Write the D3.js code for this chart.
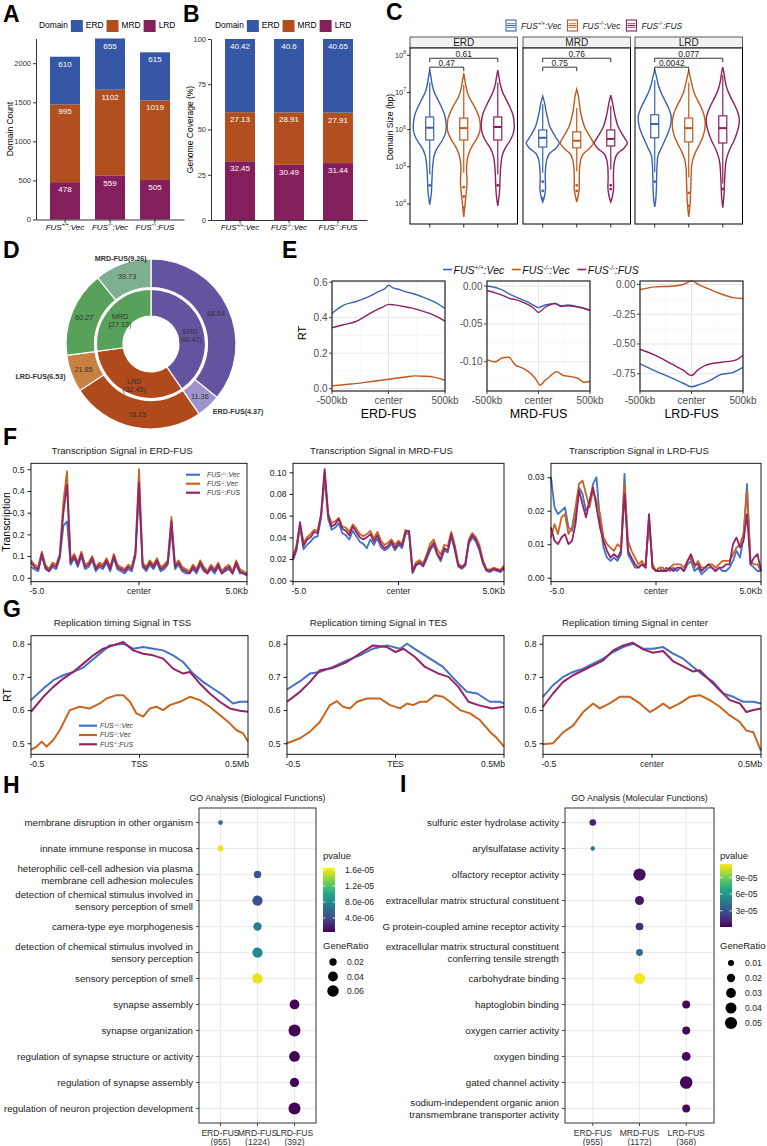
<!DOCTYPE html>
<html><head><meta charset="utf-8">
<script src="https://cdn.jsdelivr.net/npm/d3@7/dist/d3.min.js"></script>
<style>body{margin:0;background:#fff}svg{display:block}text{font-family:"Liberation Sans",Arial,Helvetica,sans-serif}</style>
</head><body><svg id="fig" width="767" height="1146"></svg>
<script>
// ================= DATA =================
const domains = ["ERD","MRD","LRD"];
const genoSup = ["+/+","-/-","-/-"];
const genoTail = [":Vec",":Vec",":FUS"];
// A
const countERD=[610,655,615], countMRD=[995,1102,1019], countLRD=[478,559,505];
const countTicks=[0,500,1000,1500,2000];
// B
const covERD=[40.42,40.6,40.65], covMRD=[27.13,28.91,27.91], covLRD=[32.45,30.49,31.44];
const covTicks=[0,25,50,75,100];
// C : violin profiles [log10 size, relative density]
const vioERD=[
 [[7.6,0],[7.4,0.08],[7.2,0.15],[7.0,0.28],[6.8,0.5],[6.6,0.72],[6.4,0.9],[6.2,0.98],[6.05,1],[5.9,0.95],[5.7,0.75],[5.5,0.45],[5.3,0.27],[5.1,0.2],[4.9,0.16],[4.6,0.13],[4.3,0.1],[3.98,0]],
 [[7.52,0],[7.3,0.08],[7.1,0.16],[6.9,0.3],[6.7,0.55],[6.5,0.78],[6.3,0.95],[6.1,1],[5.95,0.97],[5.75,0.78],[5.55,0.5],[5.35,0.3],[5.15,0.2],[4.9,0.17],[4.6,0.2],[4.3,0.15],[4.0,0.08],[3.65,0]],
 [[7.6,0],[7.4,0.08],[7.2,0.16],[7.0,0.3],[6.8,0.52],[6.6,0.74],[6.4,0.92],[6.2,0.99],[6.07,1],[5.9,0.94],[5.7,0.74],[5.5,0.45],[5.3,0.27],[5.1,0.2],[4.9,0.16],[4.6,0.13],[4.3,0.1],[3.95,0]]];
const vioMRD=[
 [[6.9,0],[6.7,0.12],[6.5,0.2],[6.3,0.3],[6.1,0.42],[5.9,0.65],[5.75,0.85],[5.64,1],[5.5,0.8],[5.35,0.4],[5.2,0.25],[5.0,0.18],[4.7,0.15],[4.4,0.17],[4.2,0.1],[4.05,0]],
 [[7.09,0],[6.9,0.1],[6.7,0.16],[6.5,0.22],[6.3,0.32],[6.1,0.45],[5.9,0.68],[5.75,0.88],[5.64,1],[5.5,0.78],[5.35,0.4],[5.2,0.25],[5.0,0.18],[4.7,0.15],[4.4,0.15],[4.05,0]],
 [[6.93,0],[6.7,0.12],[6.5,0.2],[6.3,0.3],[6.1,0.43],[5.9,0.66],[5.75,0.87],[5.64,1],[5.5,0.8],[5.35,0.4],[5.2,0.25],[5.0,0.18],[4.7,0.16],[4.4,0.17],[4.2,0.1],[4.05,0]]];
const vioLRD=[
 [[7.6,0],[7.4,0.12],[7.2,0.22],[7.0,0.38],[6.8,0.6],[6.6,0.82],[6.4,0.98],[6.3,1],[6.1,0.95],[5.9,0.8],[5.7,0.6],[5.5,0.4],[5.3,0.2],[5.1,0.15],[4.8,0.12],[4.4,0.1],[4.1,0.06],[3.92,0]],
 [[7.6,0],[7.4,0.1],[7.2,0.2],[7.0,0.32],[6.8,0.52],[6.6,0.75],[6.4,0.92],[6.2,1],[6.0,0.97],[5.8,0.85],[5.6,0.65],[5.4,0.42],[5.2,0.25],[5.0,0.17],[4.7,0.14],[4.4,0.12],[4.0,0.08],[3.65,0]],
 [[7.68,0],[7.5,0.08],[7.3,0.15],[7.1,0.26],[6.9,0.45],[6.7,0.68],[6.5,0.88],[6.3,1],[6.1,0.97],[5.9,0.85],[5.7,0.68],[5.5,0.45],[5.3,0.28],[5.1,0.18],[4.8,0.13],[4.5,0.1],[4.2,0.07],[3.9,0]]];
// box stats [whiskerLow, q1, median, q3, whiskerHigh] (log10 bp)
const boxERD=[[4.79,5.72,6.05,6.34,7.27],[4.84,5.72,6.04,6.31,7.2],[4.79,5.72,6.07,6.34,7.27]];
const boxMRD=[[4.84,5.53,5.78,5.99,6.68],[4.87,5.51,5.70,5.94,6.58],[4.92,5.56,5.75,5.99,6.64]];
const boxLRD=[[4.85,5.78,6.15,6.40,7.33],[4.71,5.67,6.04,6.31,7.27],[4.55,5.64,6.04,6.37,7.46]];
const outERD=[[4.5],[4.45,4.2,3.9],[4.5]];
const outMRD=[[4.6,4.35,4.15],[4.5,4.35],[4.5,4.4]];
const outLRD=[[4.6],[4.3,3.95],[4.4]];
const pERD=["0.47","0.61"], pMRD=["0.75","0.76"], pLRD=["0.0042","0.077"];
const sizeTicks=[4,5,6,7,8];
// D
const innerNames=["ERD","LRD","MRD"];
const innerPct=[40.42,32.45,27.13];
const outerPct=[88.64,11.36,78.15,21.85,60.27,39.73];
const fusNames=["ERD-FUS(4.37)","LRD-FUS(6.53)","MRD-FUS(9.26)"];
// E  [position kb, RT]
const eERD_wt=[[-500,0.425],[-400,0.47],[-294,0.49],[-200,0.512],[-147,0.528],[-80,0.55],[-30,0.565],[0,0.583],[40,0.568],[100,0.558],[147,0.547],[220,0.535],[294,0.519],[400,0.49],[450,0.473],[500,0.453]];
const eERD_ko=[[-500,0.015],[-400,0.022],[-294,0.028],[-150,0.04],[0,0.053],[150,0.065],[235,0.072],[300,0.07],[400,0.065],[500,0.047]];
const eERD_res=[[-500,0.343],[-400,0.36],[-294,0.377],[-200,0.41],[-147,0.43],[-50,0.46],[0,0.475],[50,0.472],[147,0.462],[200,0.455],[294,0.438],[400,0.415],[500,0.381]];
const eMRD_wt=[[-500,0.0],[-420,-0.002],[-355,-0.005],[-290,-0.01],[-226,-0.014],[-160,-0.018],[-97,-0.0215],[-40,-0.026],[0,-0.0285],[65,-0.025],[161,-0.023],[220,-0.026],[290,-0.025],[400,-0.028],[500,-0.032]];
const eMRD_ko=[[-500,-0.097],[-419,-0.1],[-355,-0.095],[-290,-0.094],[-226,-0.104],[-160,-0.108],[-97,-0.113],[-30,-0.122],[16,-0.131],[60,-0.125],[97,-0.121],[177,-0.113],[240,-0.118],[290,-0.119],[387,-0.122],[440,-0.127],[500,-0.126]];
const eMRD_res=[[-500,-0.006],[-420,-0.009],[-355,-0.012],[-290,-0.016],[-226,-0.018],[-160,-0.021],[-97,-0.025],[-40,-0.03],[0,-0.035],[65,-0.028],[161,-0.023],[220,-0.027],[290,-0.026],[400,-0.028],[500,-0.032]];
const eLRD_wt=[[-500,-0.668],[-355,-0.726],[-194,-0.785],[-80,-0.83],[0,-0.859],[80,-0.84],[161,-0.815],[290,-0.756],[400,-0.74],[500,-0.697]];
const eLRD_ko=[[-500,-0.044],[-355,-0.02],[-194,-0.015],[-80,0.0],[0,0.03],[80,-0.005],[161,-0.035],[290,-0.08],[400,-0.11],[500,-0.118]];
const eLRD_res=[[-500,-0.544],[-355,-0.594],[-194,-0.668],[-80,-0.72],[0,-0.765],[60,-0.72],[129,-0.682],[290,-0.653],[419,-0.638],[500,-0.594]];
// F  transcription profiles (61 bins from -5 kb to +5 kb)
const fERD_wt=[0.05,0.04,0.03,0.10,0.04,0.03,0.05,0.04,0.09,0.24,0.26,0.06,0.09,0.05,0.10,0.04,0.05,0.08,0.03,0.05,0.04,0.07,0.03,0.09,0.04,0.03,0.02,0.04,0.03,0.10,0.40,0.05,0.03,0.06,0.04,0.07,0.03,0.04,0.06,0.22,0.04,0.06,0.03,0.02,0.02,0.04,0.02,0.06,0.03,0.02,0.04,0.02,0.05,0.02,0.03,0.04,0.02,0.06,0.02,0.02,0.01];
const fERD_ko=[0.08,0.06,0.05,0.12,0.06,0.04,0.07,0.06,0.11,0.35,0.49,0.08,0.11,0.07,0.12,0.06,0.07,0.10,0.05,0.07,0.06,0.09,0.05,0.11,0.06,0.05,0.04,0.06,0.05,0.12,0.50,0.07,0.05,0.08,0.06,0.09,0.05,0.06,0.08,0.28,0.06,0.08,0.05,0.04,0.03,0.06,0.04,0.08,0.05,0.03,0.06,0.04,0.07,0.03,0.05,0.06,0.03,0.08,0.04,0.03,0.02];
const fERD_res=[0.07,0.05,0.04,0.11,0.05,0.03,0.06,0.05,0.10,0.30,0.43,0.07,0.10,0.06,0.11,0.05,0.06,0.09,0.04,0.06,0.05,0.08,0.04,0.10,0.05,0.04,0.03,0.05,0.04,0.11,0.44,0.06,0.04,0.07,0.05,0.08,0.04,0.05,0.07,0.26,0.05,0.07,0.04,0.03,0.02,0.05,0.03,0.07,0.04,0.02,0.05,0.03,0.06,0.02,0.04,0.05,0.02,0.07,0.03,0.02,0.015];
const fMRD_wt=[0.019,0.028,0.050,0.029,0.033,0.036,0.040,0.041,0.058,0.095,0.057,0.047,0.049,0.053,0.044,0.042,0.038,0.046,0.041,0.036,0.034,0.030,0.038,0.033,0.039,0.031,0.028,0.030,0.034,0.028,0.033,0.030,0.043,0.044,0.007,0.014,0.016,0.013,0.020,0.028,0.033,0.024,0.018,0.028,0.026,0.041,0.028,0.013,0.011,0.014,0.034,0.040,0.036,0.028,0.016,0.009,0.008,0.010,0.009,0.008,0.011];
const fMRD_ko=[0.022,0.033,0.052,0.035,0.040,0.043,0.047,0.046,0.060,0.100,0.062,0.053,0.055,0.058,0.050,0.049,0.045,0.052,0.048,0.043,0.041,0.043,0.046,0.039,0.045,0.037,0.033,0.035,0.038,0.033,0.037,0.034,0.047,0.045,0.010,0.017,0.019,0.016,0.024,0.034,0.038,0.029,0.024,0.033,0.032,0.045,0.033,0.016,0.013,0.016,0.038,0.044,0.040,0.033,0.019,0.011,0.010,0.012,0.011,0.010,0.014];
const fMRD_res=[0.020,0.030,0.054,0.032,0.038,0.040,0.045,0.044,0.062,0.103,0.060,0.050,0.052,0.057,0.048,0.046,0.042,0.050,0.045,0.040,0.038,0.040,0.043,0.036,0.042,0.034,0.030,0.032,0.036,0.030,0.035,0.032,0.045,0.046,0.008,0.015,0.017,0.014,0.022,0.030,0.035,0.025,0.020,0.030,0.028,0.043,0.030,0.014,0.012,0.015,0.036,0.042,0.038,0.030,0.017,0.010,0.009,0.011,0.010,0.009,0.012];
const fLRD_wt=[0.030,0.021,0.019,0.020,0.021,0.015,0.014,0.018,0.027,0.025,0.020,0.022,0.028,0.030,0.017,0.009,0.006,0.005,0.006,0.005,0.007,0.031,0.007,0.005,0.003,0.003,0.004,0.003,0.017,0.003,0.002,0.003,0.002,0.003,0.002,0.003,0.002,0.003,0.002,0.004,0.005,0.002,0.003,0.001,0.002,0.003,0.003,0.002,0.003,0.002,0.002,0.003,0.005,0.008,0.006,0.012,0.028,0.004,0.003,0.002,0.002];
const fLRD_ko=[0.012,0.016,0.013,0.018,0.019,0.013,0.015,0.021,0.028,0.029,0.025,0.021,0.026,0.023,0.019,0.012,0.010,0.009,0.008,0.010,0.009,0.028,0.011,0.008,0.006,0.004,0.005,0.003,0.018,0.004,0.002,0.003,0.003,0.002,0.003,0.004,0.004,0.004,0.003,0.005,0.006,0.003,0.005,0.003,0.003,0.004,0.004,0.003,0.004,0.005,0.005,0.005,0.007,0.009,0.010,0.013,0.026,0.005,0.004,0.004,0.002];
const fLRD_res=[0.015,0.011,0.010,0.012,0.013,0.010,0.011,0.016,0.026,0.022,0.018,0.023,0.027,0.021,0.015,0.011,0.008,0.006,0.007,0.006,0.008,0.025,0.008,0.006,0.004,0.003,0.004,0.003,0.019,0.003,0.002,0.002,0.002,0.002,0.003,0.002,0.003,0.003,0.002,0.005,0.007,0.004,0.004,0.002,0.003,0.004,0.003,0.002,0.003,0.003,0.004,0.004,0.010,0.012,0.009,0.011,0.019,0.004,0.006,0.007,0.002];
// G  [position Mb, RT]
const gTSS_wt=[[-0.5,0.63],[-0.443,0.665],[-0.397,0.69],[-0.351,0.705],[-0.305,0.715],[-0.259,0.728],[-0.229,0.745],[-0.183,0.77],[-0.137,0.795],[-0.075,0.80],[-0.029,0.785],[0.017,0.79],[0.063,0.785],[0.109,0.78],[0.155,0.765],[0.201,0.745],[0.247,0.71],[0.293,0.685],[0.339,0.665],[0.385,0.645],[0.431,0.62],[0.462,0.625],[0.5,0.625]];
const gTSS_ko=[[-0.5,0.48],[-0.474,0.49],[-0.451,0.505],[-0.428,0.49],[-0.397,0.51],[-0.367,0.54],[-0.321,0.60],[-0.275,0.61],[-0.229,0.605],[-0.183,0.62],[-0.152,0.635],[-0.106,0.645],[-0.075,0.645],[-0.044,0.625],[-0.014,0.59],[0.017,0.58],[0.048,0.605],[0.078,0.61],[0.109,0.60],[0.140,0.615],[0.186,0.625],[0.232,0.64],[0.278,0.63],[0.324,0.61],[0.370,0.585],[0.416,0.56],[0.446,0.54],[0.477,0.53],[0.5,0.505]];
const gTSS_res=[[-0.5,0.595],[-0.443,0.64],[-0.397,0.67],[-0.351,0.695],[-0.305,0.715],[-0.259,0.74],[-0.213,0.765],[-0.167,0.785],[-0.121,0.795],[-0.075,0.805],[-0.029,0.78],[0.017,0.77],[0.063,0.765],[0.109,0.755],[0.155,0.725],[0.201,0.71],[0.232,0.715],[0.278,0.68],[0.324,0.65],[0.370,0.625],[0.416,0.605],[0.462,0.598],[0.5,0.595]];
const gTES_wt=[[-0.5,0.662],[-0.44,0.687],[-0.394,0.71],[-0.348,0.715],[-0.288,0.73],[-0.224,0.75],[-0.164,0.765],[-0.104,0.785],[-0.039,0.795],[0.021,0.785],[0.053,0.80],[0.099,0.78],[0.159,0.755],[0.219,0.73],[0.283,0.685],[0.329,0.655],[0.376,0.65],[0.435,0.625],[0.481,0.625],[0.5,0.62]];
const gTES_ko=[[-0.5,0.50],[-0.44,0.515],[-0.394,0.535],[-0.348,0.565],[-0.302,0.615],[-0.27,0.627],[-0.242,0.61],[-0.21,0.605],[-0.177,0.625],[-0.131,0.635],[-0.071,0.635],[-0.025,0.615],[0.021,0.605],[0.053,0.62],[0.081,0.615],[0.113,0.625],[0.145,0.625],[0.182,0.645],[0.219,0.64],[0.251,0.625],[0.297,0.60],[0.343,0.59],[0.389,0.57],[0.435,0.535],[0.468,0.515],[0.5,0.49]];
const gTES_res=[[-0.5,0.625],[-0.44,0.655],[-0.394,0.685],[-0.348,0.72],[-0.288,0.727],[-0.224,0.745],[-0.164,0.77],[-0.104,0.795],[-0.039,0.79],[0.0,0.775],[0.037,0.785],[0.090,0.76],[0.136,0.73],[0.198,0.71],[0.244,0.70],[0.29,0.67],[0.336,0.625],[0.382,0.615],[0.444,0.605],[0.5,0.61]];
const gCEN_wt=[[-0.5,0.64],[-0.454,0.675],[-0.408,0.70],[-0.362,0.715],[-0.316,0.725],[-0.270,0.74],[-0.224,0.755],[-0.178,0.775],[-0.132,0.79],[-0.087,0.80],[-0.041,0.785],[0.005,0.785],[0.051,0.79],[0.097,0.77],[0.143,0.755],[0.189,0.73],[0.235,0.705],[0.281,0.685],[0.327,0.65],[0.373,0.64],[0.419,0.625],[0.465,0.625],[0.5,0.62]];
const gCEN_ko=[[-0.5,0.497],[-0.454,0.50],[-0.408,0.533],[-0.362,0.553],[-0.316,0.594],[-0.270,0.62],[-0.240,0.605],[-0.194,0.62],[-0.148,0.64],[-0.102,0.64],[-0.056,0.62],[-0.010,0.594],[0.020,0.605],[0.051,0.62],[0.082,0.605],[0.127,0.62],[0.173,0.64],[0.219,0.645],[0.265,0.63],[0.311,0.61],[0.357,0.584],[0.403,0.564],[0.433,0.538],[0.465,0.533],[0.5,0.477]];
const gCEN_res=[[-0.5,0.61],[-0.454,0.65],[-0.408,0.685],[-0.362,0.705],[-0.316,0.72],[-0.270,0.735],[-0.224,0.75],[-0.178,0.78],[-0.132,0.795],[-0.087,0.803],[-0.041,0.783],[0.005,0.773],[0.051,0.778],[0.097,0.747],[0.143,0.732],[0.189,0.716],[0.219,0.72],[0.265,0.69],[0.311,0.66],[0.357,0.63],[0.403,0.62],[0.433,0.594],[0.465,0.60],[0.5,0.605]];
// H
const bpTerms=["membrane disruption in other organism","innate immune response in mucosa","heterophilic cell-cell adhesion via plasma\nmembrane cell adhesion molecules","detection of chemical stimulus involved in\nsensory perception of smell","camera-type eye morphogenesis","detection of chemical stimulus involved in\nsensory perception","sensory perception of smell","synapse assembly","synapse organization","regulation of synapse structure or activity","regulation of synapse assembly","regulation of neuron projection development"];
const bpCluster=["ERD-FUS","ERD-FUS","MRD-FUS","MRD-FUS","MRD-FUS","MRD-FUS","MRD-FUS","LRD-FUS","LRD-FUS","LRD-FUS","LRD-FUS","LRD-FUS"];
const bpRatio=[0.008,0.012,0.02,0.045,0.027,0.045,0.047,0.04,0.066,0.05,0.035,0.066];
const bpPval=[6e-6,1.6e-5,4.5e-6,4.5e-6,7.5e-6,8e-6,1.6e-5,6e-7,5e-7,6e-7,6e-7,5e-7];
const bpClusters=["ERD-FUS","MRD-FUS","LRD-FUS"], bpCounts=["(955)","(1224)","(392)"];
const bpPTicks=[4e-6,8e-6,1.2e-5,1.6e-5], bpPLabels=["4.0e-06","8.0e-06","1.2e-05","1.6e-05"];
const bpSizeTicks=[0.02,0.04,0.06];
// I
const mfTerms=["sulfuric ester hydrolase activity","arylsulfatase activity","olfactory receptor activity","extracellular matrix structural constituent","G protein-coupled amine receptor activity","extracellular matrix structural constituent\nconferring tensile strength","carbohydrate binding","haptoglobin binding","oxygen carrier activity","oxygen binding","gated channel activity","sodium-independent organic anion\ntransmembrane transporter activity"];
const mfCluster=["ERD-FUS","ERD-FUS","MRD-FUS","MRD-FUS","MRD-FUS","MRD-FUS","MRD-FUS","LRD-FUS","LRD-FUS","LRD-FUS","LRD-FUS","LRD-FUS"];
const mfRatio=[0.012,0.006,0.052,0.025,0.017,0.013,0.04,0.018,0.018,0.023,0.055,0.018];
const mfPval=[1.2e-5,4.5e-5,5e-6,8e-6,1.5e-5,4.2e-5,1.12e-4,3e-6,3e-6,4e-6,2e-6,4e-6];
const mfClusters=["ERD-FUS","MRD-FUS","LRD-FUS"], mfCounts=["(955)","(1172)","(368)"];
const mfPTicks=[3e-5,6e-5,9e-5], mfPLabels=["3e-05","6e-05","9e-05"];
const mfSizeTicks=[0.01,0.02,0.03,0.04,0.05];

// ================= DRAWING =================
const FONT='"Liberation Sans",Arial,Helvetica,sans-serif';
const svg=d3.select("#fig");
svg.append("rect").attr("width",767).attr("height",1146).attr("fill","#fff");
const domColors={ERD:"#3557a5",MRD:"#b24f1e",LRD:"#851e5d"};
const genoColors=["#3a62b0","#c2581c","#8f1f62"];
const lineColors=["#4472c4","#c8651e","#952366"];

function T(p,x,y,s,o={}){
  const t=p.append("text").attr("x",x).attr("y",y).text(s).attr("font-size",o.size||8)
   .attr("fill",o.fill||"#000").attr("text-anchor",o.anchor||"start").attr("font-family",FONT);
  if(o.weight)t.attr("font-weight",o.weight);
  if(o.italic)t.attr("font-style","italic");
  if(o.rot)t.attr("transform",`rotate(-90,${x},${y})`);
  return t;
}
function fusText(p,x,y,gi,size,anchor,fill){
  const t=p.append("text").attr("x",x).attr("y",y).attr("font-size",size).attr("font-family",FONT)
   .attr("font-style","italic").attr("text-anchor",anchor||"start").attr("fill",fill||"#000");
  t.append("tspan").text("FUS");
  t.append("tspan").attr("font-size",size*0.6).attr("dy",-size*0.38).text(genoSup[gi]);
  t.append("tspan").attr("dy",size*0.38).text(genoTail[gi]);
  return t;
}
function styleAxis(g,o={}){
  g.attr("font-family",FONT);
  g.selectAll(".domain").attr("stroke",o.line||"#000").attr("stroke-width",o.lw||0.8);
  g.selectAll(".tick line").attr("stroke",o.line||"#000").attr("stroke-width",o.lw||0.8);
  g.selectAll(".tick text").attr("font-size",o.size||7.5).attr("fill",o.fill||"#333");
}
// panel letters
[["A",3,22],["B",183,22],["C",386,20],["D",3,258],["E",282,258],["F",3,445],["G",3,617],["H",3,793],["I",400,792]]
 .forEach(([s,x,y])=>T(svg,x,y,s,{size:23,weight:"bold"}));

// ---------- A & B ----------
function domLegend(g,x,y){
  let t=T(g,x,y,"Domain",{size:8.4});
  let cx=x+t.node().getComputedTextLength()+3;
  domains.forEach(d=>{
    g.append("rect").attr("x",cx).attr("y",y-8).attr("width",12).attr("height",12).attr("fill",domColors[d]);
    const tt=T(g,cx+15,y,d,{size:8.4});
    cx=cx+15+tt.node().getComputedTextLength()+3;
  });
}
function barPanel(o){
  const g=svg.append("g");
  const y=d3.scaleLinear().domain([0,o.max]).range([o.yb,o.yt]);
  const x=d3.scaleBand().domain([0,1,2]).range([o.x0,o.x1]).paddingInner(o.pi).paddingOuter(o.po);
  const rows=[0,1,2].map(i=>({LRD:o.lrd[i],MRD:o.mrd[i],ERD:o.erd[i]}));
  const series=d3.stack().keys(["LRD","MRD","ERD"])(rows);
  series.forEach(s=>s.forEach((d,i)=>{
    g.append("rect").attr("x",x(i)).attr("y",y(d[1])).attr("width",x.bandwidth()).attr("height",y(d[0])-y(d[1])).attr("fill",domColors[s.key]);
    T(g,x(i)+x.bandwidth()/2,y(d[1])+10,String(d.data[s.key]),{size:8,fill:"#fff",anchor:"middle"});
  }));
  styleAxis(g.append("g").attr("transform",`translate(${o.x0},0)`).call(d3.axisLeft(y).tickValues(o.ticks).tickFormat(d=>String(d)).tickSize(3).tickSizeOuter(0).tickPadding(2)));
  styleAxis(g.append("g").attr("transform",`translate(0,${o.yb})`).call(d3.axisBottom(x).tickSize(3).tickSizeOuter(0).tickFormat("")));
  [0,1,2].forEach(i=>fusText(g,x(i)+x.bandwidth()/2,o.yb+10,i,8,"middle","#000"));
  T(g,o.ytX,(o.yt+o.yb)/2,o.ytitle,{size:8.5,anchor:"middle",rot:true});
  domLegend(g,o.legX,28);
}
barPanel({x0:36,x1:184,yt:38.5,yb:219.5,max:2316,pi:0.333,po:0.311,erd:countERD,mrd:countMRD,lrd:countLRD,ticks:countTicks,ytitle:"Domain Count",ytX:13,legX:39});
barPanel({x0:211,x1:367,yt:39,yb:220,max:100,pi:0.388,po:0.286,erd:covERD,mrd:covMRD,lrd:covLRD,ticks:covTicks,ytitle:"Genome Coverage (%)",ytX:193,legX:215});

// ---------- C ----------
(function(){
  const g=svg.append("g");
  const panelX=[410,523,635], cW=107.5;
  const yC=d3.scaleLinear().domain([3.46,8.196]).range([224,48]);
  const xC=d3.scalePoint().domain([0,1,2]).range([0,cW]).padding(0.58);
  const vio=[vioERD,vioMRD,vioLRD], box=[boxERD,boxMRD,boxLRD], outs=[outERD,outMRD,outLRD], pv=[pERD,pMRD,pLRD];
  let lx=506;
  [0,1,2].forEach(gi=>{
    const c=genoColors[gi];
    g.append("rect").attr("x",lx).attr("y",20).attr("width",10).attr("height",11).attr("fill","#fff").attr("stroke",c).attr("stroke-width",1.1);
    [23.5,25.5,27.5].forEach((yy,k)=>g.append("line").attr("x1",lx+1).attr("x2",lx+9).attr("y1",yy).attr("y2",yy).attr("stroke",c).attr("stroke-width",k==1?1.3:0.7));
    const t=fusText(g,lx+15,28.5,gi,8.4,"start","#222");
    lx=lx+15+t.node().getComputedTextLength()+6;
  });
  domains.forEach((dn,di)=>{
    const px=panelX[di];
    g.append("rect").attr("x",px).attr("y",37).attr("width",cW).attr("height",11).attr("fill","#f2f2f2").attr("stroke","#333").attr("stroke-width",0.8);
    T(g,px+cW/2,46.3,dn,{size:10,anchor:"middle",fill:"#1a1a1a"});
    g.append("rect").attr("x",px).attr("y",48).attr("width",cW).attr("height",176).attr("fill","#fff").attr("stroke","#000").attr("stroke-width",1);
    [0,1,2].forEach(gi=>{
      const cx=px+xC(gi), c=genoColors[gi];
      const area=d3.area().y(d=>yC(d[0])).x0(d=>cx-d[1]*16.5).x1(d=>cx+d[1]*16.5).curve(d3.curveCatmullRom);
      g.append("path").attr("d",area(vio[di][gi])).attr("fill","#fff").attr("stroke",c).attr("stroke-width",1.4);
      const b=box[di][gi];
      g.append("line").attr("x1",cx).attr("x2",cx).attr("y1",yC(b[0])).attr("y2",yC(b[1])).attr("stroke",c).attr("stroke-width",1.2);
      g.append("line").attr("x1",cx).attr("x2",cx).attr("y1",yC(b[3])).attr("y2",yC(b[4])).attr("stroke",c).attr("stroke-width",1.2);
      g.append("rect").attr("x",cx-4).attr("y",yC(b[3])).attr("width",8).attr("height",yC(b[1])-yC(b[3])).attr("fill","#fff").attr("stroke",c).attr("stroke-width",1.2);
      g.append("line").attr("x1",cx-4).attr("x2",cx+4).attr("y1",yC(b[2])).attr("y2",yC(b[2])).attr("stroke",c).attr("stroke-width",2);
      outs[di][gi].forEach(v=>g.append("circle").attr("cx",cx).attr("cy",yC(v)).attr("r",1.4).attr("fill",c));
      g.append("line").attr("x1",cx).attr("x2",cx).attr("y1",224).attr("y2",227.5).attr("stroke","#000").attr("stroke-width",0.8);
    });
    [[0,1,7.68],[0,2,7.92]].forEach(([a,bb,lev],k)=>{
      const x1=px+xC(a), x2=px+xC(bb), yy=yC(lev);
      g.append("path").attr("d",`M${x1},${yy+4}V${yy}H${x2}V${yy+4}`).attr("fill","none").attr("stroke","#000").attr("stroke-width",0.8);
      T(g,(x1+x2)/2,yy-1.5,pv[di][k],{size:8.4,anchor:"middle",fill:"#222"});
    });
  });
  sizeTicks.forEach(k=>{
    g.append("line").attr("x1",407).attr("x2",410).attr("y1",yC(k)).attr("y2",yC(k)).attr("stroke","#000").attr("stroke-width",0.8);
    const t=g.append("text").attr("x",406).attr("y",yC(k)+2.5).attr("text-anchor","end").attr("font-size",7.5).attr("fill","#333").attr("font-family",FONT);
    t.append("tspan").text("10");
    t.append("tspan").attr("font-size",5).attr("dy",-3.5).text(k);
  });
  T(g,393,127,"Domain Size (bp)",{size:8.6,anchor:"middle",rot:true});
})();

// ---------- D ----------
(function(){
  const g=svg.append("g").attr("transform","translate(151,344)");
  const innerCols={ERD:"#6454a0",LRD:"#b0491b",MRD:"#58a15b"};
  const outerCols=["#6454a0","#9e93cc","#b0491b","#c98141","#58a15b","#7daf90"];
  const pie=d3.pie().sort(null).value(d=>d);
  const innerArcs=pie(innerPct);
  const arcIn=d3.arc().innerRadius(28).outerRadius(54.5);
  const arcOut=d3.arc().innerRadius(56.5).outerRadius(85);
  const outerArcs=[];
  innerArcs.forEach((a,i)=>{
    const span=a.endAngle-a.startAngle; let s=a.startAngle;
    [outerPct[2*i],outerPct[2*i+1]].forEach((p,j)=>{const e=s+span*p/100; outerArcs.push({startAngle:s,endAngle:e,value:p,k:2*i+j,parent:i}); s=e;});
  });
  outerArcs.forEach(a=>g.append("path").attr("d",arcOut(a)).attr("fill",outerCols[a.k]).attr("stroke","#fff").attr("stroke-width",1.2));
  innerArcs.forEach((a,i)=>g.append("path").attr("d",arcIn(a)).attr("fill",innerCols[innerNames[i]]).attr("stroke","#fff").attr("stroke-width",1.2));
  innerArcs.forEach((a,i)=>{
    const [cx,cy]=arcIn.centroid(a);
    T(g,cx,cy+2,innerNames[i],{size:7.3,anchor:"middle",fill:"#333"});
    T(g,cx,cy+10.5,`(${innerPct[i]})`,{size:7.3,anchor:"middle",fill:"#333"});
  });
  const lblArc=d3.arc().innerRadius(72).outerRadius(72);
  outerArcs.forEach(a=>{
    const [cx,cy]=lblArc.centroid(a);
    T(g,cx,cy+2.5,a.value.toFixed(2),{size:7.3,anchor:"middle",fill:"#333"});
  });
  outerArcs.filter(a=>a.k%2==1).forEach(a=>{
    const m=(a.startAngle+a.endAngle)/2, r=91;
    const x=r*Math.sin(m), y=-r*Math.cos(m);
    const sn=Math.sin(m);
    const anchor=sn>0.5?"start":(sn<-0.5?"end":"middle");
    T(g,x,y+3,fusNames[a.parent],{size:7.2,anchor,weight:"bold",fill:"#333"});
  });
})();

// ---------- E ----------
(function(){
  const g=svg.append("g");
  let lx=443;
  [0,1,2].forEach(gi=>{
    g.append("line").attr("x1",lx).attr("x2",lx+9).attr("y1",269.5).attr("y2",269.5).attr("stroke",genoColors[gi]).attr("stroke-width",1.6);
    const t=fusText(g,lx+10.5,273.5,gi,10.5,"start","#111");
    lx=lx+10.5+t.node().getComputedTextLength()+7.5;
  });
  const panels=[
    {x0:332,x1:445,dom:[-0.0136,0.607],ticks:[0,0.2,0.4,0.6],lab:["0.0","0.2","0.4","0.6"],minor:[0.1,0.3,0.5],s:[eERD_wt,eERD_ko,eERD_res],name:"ERD-FUS"},
    {x0:487,x1:590,dom:[-0.1385,0.0066],ticks:[0,-0.05,-0.1],lab:["0.00","-0.05","-0.10"],minor:[-0.025,-0.075,-0.125],s:[eMRD_wt,eMRD_ko,eMRD_res],name:"MRD-FUS"},
    {x0:640,x1:743,dom:[-0.895,0.0293],ticks:[0,-0.25,-0.5,-0.75],lab:["0.00","-0.25","-0.50","-0.75"],minor:[-0.125,-0.375,-0.625],s:[eLRD_wt,eLRD_ko,eLRD_res],name:"LRD-FUS"}];
  panels.forEach(p=>{
    const x=d3.scaleLinear().domain([-500,500]).range([p.x0,p.x1]);
    const y=d3.scaleLinear().domain(p.dom).range([391,281]);
    p.minor.forEach(v=>g.append("line").attr("x1",p.x0).attr("x2",p.x1).attr("y1",y(v)).attr("y2",y(v)).attr("stroke","#f3f3f3").attr("stroke-width",0.6));
    [-250,250].forEach(v=>g.append("line").attr("x1",x(v)).attr("x2",x(v)).attr("y1",281).attr("y2",391).attr("stroke","#f3f3f3").attr("stroke-width",0.6));
    p.ticks.forEach(v=>g.append("line").attr("x1",p.x0).attr("x2",p.x1).attr("y1",y(v)).attr("y2",y(v)).attr("stroke","#e6e6e6").attr("stroke-width",1));
    [-500,0,500].forEach(v=>g.append("line").attr("x1",x(v)).attr("x2",x(v)).attr("y1",281).attr("y2",391).attr("stroke","#e6e6e6").attr("stroke-width",1));
    const line=d3.line().x(d=>x(d[0])).y(d=>y(d[1])).curve(d3.curveMonotoneX);
    p.s.forEach((s,gi)=>g.append("path").attr("d",line(s)).attr("fill","none").attr("stroke",genoColors[gi]).attr("stroke-width",1.4));
    g.append("rect").attr("x",p.x0).attr("y",281).attr("width",p.x1-p.x0).attr("height",110).attr("fill","none").attr("stroke","#333").attr("stroke-width",1.3);
    p.ticks.forEach((v,i)=>{
      g.append("line").attr("x1",p.x0-3).attr("x2",p.x0).attr("y1",y(v)).attr("y2",y(v)).attr("stroke","#333").attr("stroke-width",0.9);
      T(g,p.x0-4.5,y(v)+3.5,p.lab[i],{size:10,anchor:"end",fill:"#4d4d4d"});
    });
    [[-500,"-500kb"],[0,"center"],[500,"500kb"]].forEach(([v,l])=>{
      g.append("line").attr("x1",x(v)).attr("x2",x(v)).attr("y1",391).attr("y2",394).attr("stroke","#333").attr("stroke-width",0.9);
      T(g,x(v),403.5,l,{size:10,anchor:"middle",fill:"#4d4d4d"});
    });
    T(g,(p.x0+p.x1)/2,417.5,p.name,{size:12.5,anchor:"middle"});
  });
  T(g,306,333,"RT",{size:11,anchor:"middle",rot:true});
})();

// ---------- F & G ----------
function sigPanel(o){
  const g=svg.append("g");
  const x=d3.scaleLinear().domain(o.xDom).range([o.x0,o.x1]);
  const y=d3.scaleLinear().domain(o.yDom).range([o.yb,o.yt]);
  const line=d3.line().x(d=>x(d[0])).y(d=>y(d[1]));
  o.series.forEach((s,gi)=>g.append("path").attr("d",line(s)).attr("fill","none").attr("stroke",lineColors[gi]).attr("stroke-width",o.lw).attr("stroke-linejoin","round"));
  g.append("rect").attr("x",o.x0).attr("y",o.yt).attr("width",o.x1-o.x0).attr("height",o.yb-o.yt).attr("fill","none").attr("stroke","#000").attr("stroke-width",0.9);
  const ay=g.append("g").attr("transform",`translate(${o.x0},0)`).call(d3.axisLeft(y).tickValues(o.yTicks).tickFormat((d,i)=>o.yLab[i]).tickSize(3.5).tickSizeOuter(0).tickPadding(3));
  styleAxis(ay,{size:8.6,fill:"#222",lw:0.9}); ay.select(".domain").remove();
  const xv=[o.xDom[0],(o.xDom[0]+o.xDom[1])/2,o.xDom[1]];
  xv.forEach((v,i)=>{
    g.append("line").attr("x1",x(v)).attr("x2",x(v)).attr("y1",o.yb).attr("y2",o.yb+3.5).attr("stroke","#000").attr("stroke-width",0.9);
    T(g,x(v)+(i==0?-1.5:(i==2?1:0)),o.yb+12.5,o.xLab[i],{size:8.6,fill:"#222",anchor:["start","middle","end"][i]});
  });
  T(g,(o.x0+o.x1)/2-17,o.yt-9.5,o.title,{size:9.7,anchor:"middle",fill:"#222"});
}
const idx=a=>a.map((v,i)=>[i,v]);
const fRows=[
 {x0:31,x1:247,yDom:[-0.018,0.5275],yTicks:[0,0.1,0.2,0.3,0.4,0.5],yLab:["0.0","0.1","0.2","0.3","0.4","0.5"],s:[fERD_wt,fERD_ko,fERD_res],t:"Transcription Signal in ERD-FUS"},
 {x0:293,x1:504,yDom:[-0.0009,0.1083],yTicks:[0,0.02,0.04,0.06,0.08,0.1],yLab:["0.00","0.02","0.04","0.06","0.08","0.10"],s:[fMRD_wt,fMRD_ko,fMRD_res],t:"Transcription Signal in MRD-FUS"},
 {x0:551,x1:761,yDom:[-0.0012,0.03416],yTicks:[0,0.01,0.02,0.03],yLab:["0.00","0.01","0.02","0.03"],s:[fLRD_wt,fLRD_ko,fLRD_res],t:"Transcription Signal in LRD-FUS"}];
fRows.forEach(r=>sigPanel({x0:r.x0,x1:r.x1,yt:463.3,yb:581.7,xDom:[0,r.s[0].length-1],yDom:r.yDom,yTicks:r.yTicks,yLab:r.yLab,series:r.s.map(idx),lw:1.8,xLab:["-5.0","center","5.0Kb"],title:r.t}));
T(svg,9.5,522,"Transcription",{size:10.4,anchor:"middle",rot:true});
const gRows=[
 {x0:31,x1:248,s:[gTSS_wt,gTSS_ko,gTSS_res],c:"TSS",t:"Replication timing Signal in TSS"},
 {x0:287,x1:504,s:[gTES_wt,gTES_ko,gTES_res],c:"TES",t:"Replication timing Signal in TES"},
 {x0:543,x1:761,s:[gCEN_wt,gCEN_ko,gCEN_res],c:"center",t:"Replication timing Signal in center"}];
gRows.forEach(r=>sigPanel({x0:r.x0,x1:r.x1,yt:635.7,yb:754.3,xDom:[-0.5,0.5],yDom:[0.4667,0.8242],yTicks:[0.5,0.6,0.7,0.8],yLab:["0.5","0.6","0.7","0.8"],series:r.s,lw:2,xLab:["-0.5",r.c,"0.5Mb"],title:r.t}));
T(svg,11,695,"RT",{size:10.4,anchor:"middle",rot:true});
function smallLegend(x,ys,len,tx,size){
  [0,1,2].forEach(gi=>{
    svg.append("line").attr("x1",x).attr("x2",x+len).attr("y1",ys[gi]).attr("y2",ys[gi]).attr("stroke",lineColors[gi]).attr("stroke-width",2.2);
    fusText(svg,tx,ys[gi]+2.4,gi,size,"start","#333");
  });
}
smallLegend(186,[474.7,483.7,492.7],14,207,6.8);
smallLegend(79,[725.7,735,744.3],18,100,6.8);

// ---------- H & I ----------
function goPanel(o){
  const g=svg.append("g");
  const x=d3.scalePoint().domain(o.clusters).range([o.x0,o.x1]).padding(o.pad);
  const y=d3.scalePoint().domain(d3.range(o.terms.length)).range([808,1123]).padding(0.56);
  const col=d3.scaleSequential(d3.interpolateViridis).domain(o.pDom);
  const rN=v=>1.5+(o.rMax-1.5)*Math.sqrt(Math.max(0,(v-o.sDom[0])/(o.sDom[1]-o.sDom[0])));
  g.append("rect").attr("x",o.x0).attr("y",808).attr("width",o.x1-o.x0).attr("height",315).attr("fill","#fff");
  o.terms.forEach((t,i)=>g.append("line").attr("x1",o.x0).attr("x2",o.x1).attr("y1",y(i)).attr("y2",y(i)).attr("stroke","#ebebeb").attr("stroke-width",1.1));
  o.clusters.forEach(c=>g.append("line").attr("x1",x(c)).attr("x2",x(c)).attr("y1",808).attr("y2",1123).attr("stroke","#ebebeb").attr("stroke-width",1.1));
  o.terms.forEach((t,i)=>g.append("circle").attr("cx",x(o.cluster[i])).attr("cy",y(i)).attr("r",rN(o.ratio[i])).attr("fill",col(o.pval[i])));
  g.append("rect").attr("x",o.x0).attr("y",808).attr("width",o.x1-o.x0).attr("height",315).attr("fill","none").attr("stroke","#333").attr("stroke-width",1);
  o.terms.forEach((t,i)=>{
    g.append("line").attr("x1",o.x0-3).attr("x2",o.x0).attr("y1",y(i)).attr("y2",y(i)).attr("stroke","#333").attr("stroke-width",0.9);
    const lines=t.split("\n");
    lines.forEach((l,k)=>T(g,o.x0-6,y(i)+3.4+(k-(lines.length-1)/2)*11.8,l,{size:9.7,anchor:"end",fill:"#222"}));
  });
  o.clusters.forEach((c,i)=>{
    g.append("line").attr("x1",x(c)).attr("x2",x(c)).attr("y1",1123).attr("y2",1126).attr("stroke","#333").attr("stroke-width",0.9);
    T(g,x(c),1136,c,{size:8.6,anchor:"middle",fill:"#333"});
    T(g,x(c),1144.5,o.counts[i],{size:8.6,anchor:"middle",fill:"#333"});
  });
  T(g,(o.x0+o.x1)/2,801,o.title,{size:8.9,anchor:"middle",fill:"#222"});
  const gid="grad"+o.id;
  const grad=svg.append("defs").append("linearGradient").attr("id",gid).attr("x1",0).attr("x2",0).attr("y1",1).attr("y2",0);
  d3.range(0,1.0001,0.1).forEach(t=>grad.append("stop").attr("offset",t).attr("stop-color",d3.interpolateViridis(t)));
  const cb=o.cb;
  T(g,cb.x,859,"pvalue",{size:9.5,fill:"#222"});
  g.append("rect").attr("x",cb.x).attr("y",cb.y0).attr("width",12).attr("height",cb.y1-cb.y0).attr("fill",`url(#${gid})`);
  const cy=d3.scaleLinear().domain(o.pDom).range([cb.y1,cb.y0]);
  o.pTicks.forEach((v,i)=>{
    g.append("line").attr("x1",cb.x).attr("x2",cb.x+2.5).attr("y1",cy(v)).attr("y2",cy(v)).attr("stroke","#fff").attr("stroke-width",0.8);
    g.append("line").attr("x1",cb.x+9.5).attr("x2",cb.x+12).attr("y1",cy(v)).attr("y2",cy(v)).attr("stroke","#fff").attr("stroke-width",0.8);
    T(g,cb.lx,cy(v)+3.2,o.pLabels[i],{size:8.6,fill:"#222"});
  });
  T(g,cb.x,949,"GeneRatio",{size:9.5,fill:"#222"});
  o.sizeTicks.forEach((v,i)=>{
    const yy=cb.sy0+i*cb.sdy;
    g.append("circle").attr("cx",cb.cx).attr("cy",yy).attr("r",rN(v)).attr("fill","#000");
    T(g,cb.cx+14,yy+3.3,String(v),{size:8.6,fill:"#222"});
  });
}
goPanel({id:"H",x0:199,x1:316,pad:0.581,clusters:bpClusters,counts:bpCounts,terms:bpTerms,cluster:bpCluster,ratio:bpRatio,pval:bpPval,
  pDom:[5e-7,1.65e-5],sDom:[0.006,0.066],rMax:6,pTicks:bpPTicks,pLabels:bpPLabels,sizeTicks:bpSizeTicks,title:"GO Analysis (Biological Functions)",
  cb:{x:323,y0:868,y1:932,lx:345,cx:333,sy0:962,sdy:14.5}});
goPanel({id:"I",x0:565,x1:714,pad:0.595,clusters:mfClusters,counts:mfCounts,terms:mfTerms,cluster:mfCluster,ratio:mfRatio,pval:mfPval,
  pDom:[1e-6,1.14e-4],sDom:[0.005,0.055],rMax:6.3,pTicks:mfPTicks,pLabels:mfPLabels,sizeTicks:mfSizeTicks,title:"GO Analysis (Molecular Functions)",
  cb:{x:720,y0:864,y1:927,lx:735.5,cx:731,sy0:963,sdy:15}});
</script></body></html>
